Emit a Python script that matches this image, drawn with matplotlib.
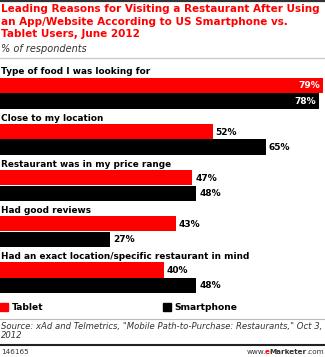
import matplotlib
matplotlib.use("Agg")
import matplotlib.pyplot as plt
from matplotlib.patches import Rectangle

categories = [
    "Type of food I was looking for",
    "Close to my location",
    "Restaurant was in my price range",
    "Had good reviews",
    "Had an exact location/specific restaurant in mind",
]
tablet = [79, 52, 47, 43, 40]
smartphone = [78, 65, 48, 27, 48]
series_names = ["Tablet", "Smartphone"]

W, H = 325, 357
RED = "#ff0000"
fig = plt.figure(figsize=(W / 100, H / 100), dpi=100)
fig.patch.set_facecolor("white")

ax = fig.add_axes([0, 0, 1, 1])
ax.set_xlim(0, W / 4.09)
ax.set_ylim(H, 0)
ax.axis("off")

# pixel-coordinate overlay for decorations
ov = fig.add_axes([0, 0, 1, 1], zorder=-1)
ov.set_xlim(0, W)
ov.set_ylim(H, 0)
ov.axis("off")

def ptxt(x, y, s, **kw):
    return ov.text(x, y, s, **kw)

# top rule
ov.plot([0, W], [0.8, 0.8], color="#333333", lw=1.6, solid_capstyle="butt")
title = ("Leading Reasons for Visiting a Restaurant After Using\n"
         "an App/Website According to US Smartphone vs.\n"
         "Tablet Users, June 2012")
ptxt(1, 4.5, title, color=RED, fontsize=7.5, fontweight="bold", va="top",
     ha="left", linespacing=1.28, family="DejaVu Sans")
ptxt(1, 49.5, "% of respondents", color="#333333", fontsize=7.0,
     style="italic", va="center", ha="left")
ov.plot([0, W], [58, 58], color="#cccccc", lw=1.0)

step = 46.1
bh = 15.3
for i, cat in enumerate(categories):
    yr = 85.5 + step * i
    yb = yr + 15.5
    ptxt(1, yr - 13.5, cat, color="black", fontsize=6.4, fontweight="bold",
         va="center", ha="left")
    ax.barh([yr], [tablet[i]], height=bh, color=RED, left=0)
    ax.barh([yb], [smartphone[i]], height=bh, color="black", left=0)
    for y, v in ((yr, tablet[i]), (yb, smartphone[i])):
        if v >= 70:
            ax.text(v - 0.8, y + 0.5, f"{v}%", color="white", fontsize=6.5,
                    fontweight="bold", ha="right", va="center")
        else:
            ax.text(v + 0.7, y + 0.5, f"{v}%", color="black", fontsize=6.5,
                    fontweight="bold", ha="left", va="center")

# legend
ov.add_patch(Rectangle((0, 303), 8, 8, color=RED))
ptxt(12, 307.5, series_names[0], fontsize=6.6, fontweight="bold", va="center")
ov.add_patch(Rectangle((163, 303), 8, 8, color="black"))
ptxt(174, 307.5, series_names[1], fontsize=6.6, fontweight="bold", va="center")

ov.plot([0, W], [318.5, 318.5], color="#bbbbbb", lw=0.8)
ptxt(1, 321.5, 'Source: xAd and Telmetrics, "Mobile Path-to-Purchase: Restaurants," Oct 3,\n2012',
     fontsize=6.15, style="italic", color="#333333", va="top", ha="left",
     linespacing=1.05)
ov.plot([0, W], [344.5, 344.5], color="#222222", lw=1.5)
ptxt(1, 351.5, "146165", fontsize=5.2, color="#333333", va="center", ha="left")

# right-aligned composite footer
fig.canvas.draw()
r = fig.canvas.get_renderer()
x = 324
for s, col, wt, adj in ((".com", "#333333", "normal", 0.0),
                        ("Marketer", "#333333", "bold", 0.0),
                        ("e", RED, "bold", 0.0),
                        ("www.", "#333333", "normal", 1.5)):
    t = ptxt(x + adj, 351.5, s, fontsize=5.2, color=col, fontweight=wt,
             va="center", ha="right")
    bb = t.get_window_extent(r)
    x = bb.x0

fig.savefig("out.png", dpi=100, facecolor="white")
